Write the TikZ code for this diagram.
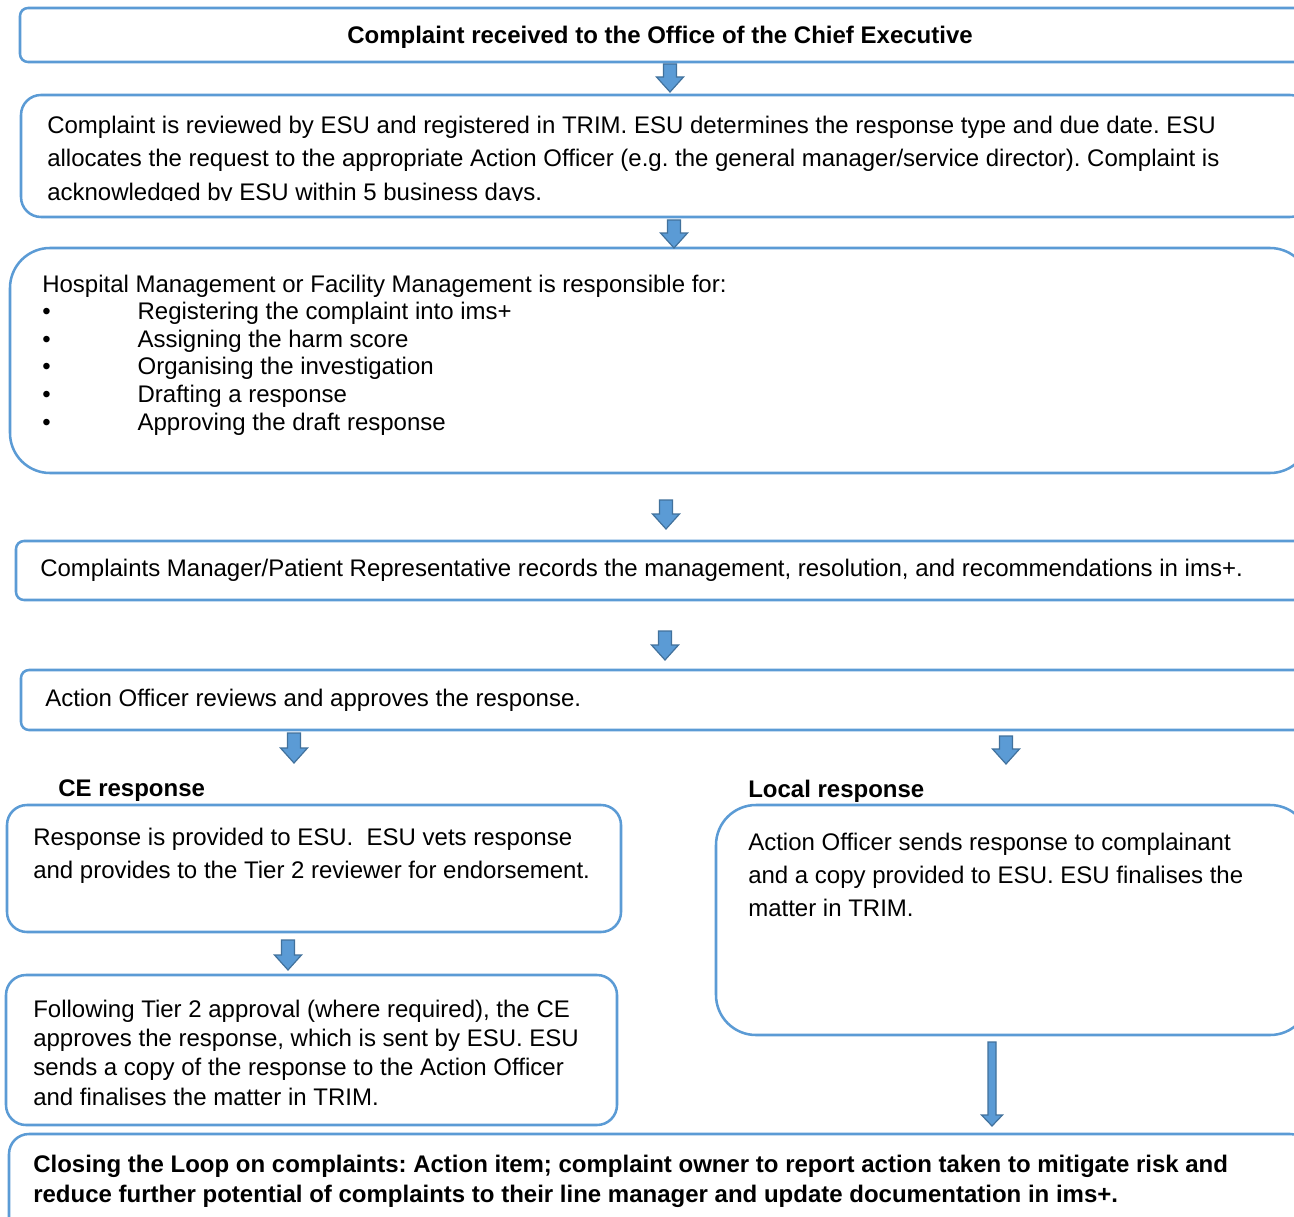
\documentclass[tikz,border=0pt]{standalone}
\usepackage{fontspec}
\setmainfont{Liberation Sans}
\usetikzlibrary{fit}
\frenchspacing
\definecolor{boxblue}{HTML}{5B9BD5}
\definecolor{arrowedge}{HTML}{41719C}
\tikzset{
  box/.style={draw=boxblue, line width=1.9pt, inner sep=0pt, fill=white},
  arr/.style={fill=boxblue, draw=arrowedge, line width=0.9pt, line join=miter},
  txt/.style={inner sep=0pt, anchor=base west, align=left, font=\fontsize{18}{24.75}\selectfont},
  btxt/.style={inner sep=0pt, font=\fontsize{18}{22.5}\selectfont\bfseries},
}
\newcommand{\flowbox}[6]{\node[box, rounded corners=#6, fit={(#2,#3)(#4,#5)}] (#1) {};}
\newcommand{\blockarrow}[6]{%
  \draw[arr] ({#1-#4/2},#2) -- ({#1+#4/2},#2) -- ({#1+#4/2},{#3-#6}) -- ({#1+#5/2},{#3-#6})
   -- (#1,#3) -- ({#1-#5/2},{#3-#6}) -- ({#1-#4/2},{#3-#6}) -- cycle;}
\newcommand{\bul}{\makebox[71.5pt][l]{•}}
\begin{document}
\begin{tikzpicture}[x=0.75pt,y=-0.75pt]
\clip (0,0) rectangle (1294,1216);
\fill[white] (0,0) rectangle (1294,1216);

% boxes
\flowbox{b1}{20}{8}{1310}{62}{6pt}
\flowbox{b2}{21}{95}{1310}{217}{15pt}
\flowbox{b3}{10}{248}{1310}{473}{30pt}
\flowbox{b4}{16}{541}{1310}{600}{6pt}
\flowbox{b5}{21}{670}{1310}{730}{6pt}
\flowbox{ce1}{7}{805}{621}{932}{15pt}
\flowbox{ce2}{6}{975}{617}{1125}{15pt}
\flowbox{loc}{716}{805}{1310}{1035}{30pt}
\flowbox{fin}{9}{1134}{1310}{1240}{15pt}

% arrows
\blockarrow{670}{64}{92}{13}{27}{15}
\blockarrow{674}{220}{248}{13}{27}{15}
\blockarrow{666}{500}{529}{13}{27}{15}
\blockarrow{665}{631}{660}{13}{27}{15}
\blockarrow{294}{733}{763}{13}{27}{15}
\blockarrow{1006}{736}{764}{13}{27}{15}
\blockarrow{288}{940}{970}{13}{27}{15}
\blockarrow{992}{1042}{1126}{8}{21}{11}

% texts (base anchor = baseline of the last line)
\node[btxt, anchor=base] (t1) at (660,44) {Complaint received to the Office of the Chief Executive};

\begin{scope}
\clip (0,95) rectangle (1294,201);
\node[txt] (t2) at (47,200) {Complaint is reviewed by ESU and registered in TRIM. ESU determines the response type and due date. ESU\\
allocates the request to the appropriate Action Officer (e.g. the general manager/service director). Complaint is\\
acknowledged by ESU within 5 business days.};
\end{scope}

\node[txt, font=\fontsize{18}{20.7}\selectfont] (t3) at (42,430) {Hospital Management or Facility Management is responsible for:\\
\bul Registering the complaint into ims+\\
\bul Assigning the harm score\\
\bul Organising the investigation\\
\bul Drafting a response\\
\bul Approving the draft response};

\node[txt] (t4) at (40,576) {Complaints Manager/Patient Representative records the management, resolution, and recommendations in ims+.};
\node[txt] (t5) at (45,706) {Action Officer reviews and approves the response.};

\node[btxt, anchor=base west] (lce) at (58,796) {CE response};
\node[btxt, anchor=base west] (lloc) at (748,797) {Local response};

\node[txt] (t6) at (33,878) {Response is provided to ESU.\ \ ESU vets response\\
and provides to the Tier 2 reviewer for endorsement.};

\node[txt, font=\fontsize{18}{22}\selectfont] (t7) at (33,1105) {Following Tier 2 approval (where required), the CE\\
approves the response, which is sent by ESU. ESU\\
sends a copy of the response to the Action Officer\\
and finalises the matter in TRIM.};

\node[txt] (t8) at (748,916) {Action Officer sends response to complainant\\
and a copy provided to ESU. ESU finalises the\\
matter in TRIM.};

\node[btxt, anchor=base west, align=left] (t9) at (33,1202) {Closing the Loop on complaints: Action item; complaint owner to report action taken to mitigate risk and\\
reduce further potential of complaints to their line manager and update documentation in ims+.};
\end{tikzpicture}
\end{document}
